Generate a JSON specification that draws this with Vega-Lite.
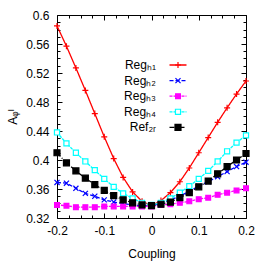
{
  "$schema": "https://vega.github.io/schema/vega-lite/v6.json",
  "width": 189,
  "height": 203,
  "autosize": "none",
  "padding": {"left": 57, "top": 15, "right": 20, "bottom": 48},
  "background": "white",
  "config": {
    "view": {"stroke": "black", "strokeWidth": 1},
    "font": "Liberation Sans",
    "axis": {"labelFont": "Liberation Sans", "titleFont": "Liberation Sans", "labelColor": "black", "titleColor": "black", "tickColor": "black", "labelFontSize": 12, "titleFontSize": 12, "titleFontWeight": "normal", "grid": false, "domain": false},
    "legend": {"labelFont": "Liberation Sans", "labelFontSize": 12, "labelColor": "black"}
  },
  "data": {"values": [
    {"x": -0.2, "v": 0.585, "s": "Regₕ₁"}, {"x": -0.18, "v": 0.557, "s": "Regₕ₁"}, {"x": -0.16, "v": 0.527, "s": "Regₕ₁"}, {"x": -0.14, "v": 0.496, "s": "Regₕ₁"}, {"x": -0.12, "v": 0.464, "s": "Regₕ₁"}, {"x": -0.1, "v": 0.432, "s": "Regₕ₁"}, {"x": -0.08, "v": 0.402, "s": "Regₕ₁"}, {"x": -0.06, "v": 0.376, "s": "Regₕ₁"}, {"x": -0.04, "v": 0.356, "s": "Regₕ₁"}, {"x": -0.02, "v": 0.343, "s": "Regₕ₁"}, {"x": 0, "v": 0.337, "s": "Regₕ₁"}, {"x": 0.02, "v": 0.344, "s": "Regₕ₁"}, {"x": 0.04, "v": 0.355, "s": "Regₕ₁"}, {"x": 0.06, "v": 0.37, "s": "Regₕ₁"}, {"x": 0.08, "v": 0.389, "s": "Regₕ₁"}, {"x": 0.1, "v": 0.41, "s": "Regₕ₁"}, {"x": 0.12, "v": 0.431, "s": "Regₕ₁"}, {"x": 0.14, "v": 0.452, "s": "Regₕ₁"}, {"x": 0.16, "v": 0.472, "s": "Regₕ₁"}, {"x": 0.18, "v": 0.491, "s": "Regₕ₁"}, {"x": 0.2, "v": 0.509, "s": "Regₕ₁"},
    {"x": -0.2, "v": 0.369, "s": "Regₕ₂"}, {"x": -0.18, "v": 0.368, "s": "Regₕ₂"}, {"x": -0.16, "v": 0.361, "s": "Regₕ₂"}, {"x": -0.14, "v": 0.354, "s": "Regₕ₂"}, {"x": -0.12, "v": 0.35, "s": "Regₕ₂"}, {"x": -0.1, "v": 0.345, "s": "Regₕ₂"}, {"x": -0.08, "v": 0.342, "s": "Regₕ₂"}, {"x": -0.06, "v": 0.34, "s": "Regₕ₂"}, {"x": -0.04, "v": 0.338, "s": "Regₕ₂"}, {"x": -0.02, "v": 0.337, "s": "Regₕ₂"}, {"x": 0, "v": 0.337, "s": "Regₕ₂"}, {"x": 0.02, "v": 0.34, "s": "Regₕ₂"}, {"x": 0.04, "v": 0.345, "s": "Regₕ₂"}, {"x": 0.06, "v": 0.35, "s": "Regₕ₂"}, {"x": 0.08, "v": 0.357, "s": "Regₕ₂"}, {"x": 0.1, "v": 0.364, "s": "Regₕ₂"}, {"x": 0.12, "v": 0.37, "s": "Regₕ₂"}, {"x": 0.14, "v": 0.377, "s": "Regₕ₂"}, {"x": 0.16, "v": 0.384, "s": "Regₕ₂"}, {"x": 0.18, "v": 0.391, "s": "Regₕ₂"}, {"x": 0.2, "v": 0.397, "s": "Regₕ₂"},
    {"x": -0.2, "v": 0.338, "s": "Regₕ₃"}, {"x": -0.18, "v": 0.337, "s": "Regₕ₃"}, {"x": -0.16, "v": 0.335, "s": "Regₕ₃"}, {"x": -0.14, "v": 0.335, "s": "Regₕ₃"}, {"x": -0.12, "v": 0.335, "s": "Regₕ₃"}, {"x": -0.1, "v": 0.336, "s": "Regₕ₃"}, {"x": -0.08, "v": 0.336, "s": "Regₕ₃"}, {"x": -0.06, "v": 0.336, "s": "Regₕ₃"}, {"x": -0.04, "v": 0.336, "s": "Regₕ₃"}, {"x": -0.02, "v": 0.336, "s": "Regₕ₃"}, {"x": 0, "v": 0.336, "s": "Regₕ₃"}, {"x": 0.02, "v": 0.338, "s": "Regₕ₃"}, {"x": 0.04, "v": 0.339, "s": "Regₕ₃"}, {"x": 0.06, "v": 0.341, "s": "Regₕ₃"}, {"x": 0.08, "v": 0.343, "s": "Regₕ₃"}, {"x": 0.1, "v": 0.346, "s": "Regₕ₃"}, {"x": 0.12, "v": 0.348, "s": "Regₕ₃"}, {"x": 0.14, "v": 0.352, "s": "Regₕ₃"}, {"x": 0.16, "v": 0.355, "s": "Regₕ₃"}, {"x": 0.18, "v": 0.358, "s": "Regₕ₃"}, {"x": 0.2, "v": 0.361, "s": "Regₕ₃"},
    {"x": -0.2, "v": 0.438, "s": "Regₕ₄"}, {"x": -0.18, "v": 0.423, "s": "Regₕ₄"}, {"x": -0.16, "v": 0.41, "s": "Regₕ₄"}, {"x": -0.14, "v": 0.398, "s": "Regₕ₄"}, {"x": -0.12, "v": 0.386, "s": "Regₕ₄"}, {"x": -0.1, "v": 0.374, "s": "Regₕ₄"}, {"x": -0.08, "v": 0.363, "s": "Regₕ₄"}, {"x": -0.06, "v": 0.354, "s": "Regₕ₄"}, {"x": -0.04, "v": 0.347, "s": "Regₕ₄"}, {"x": -0.02, "v": 0.341, "s": "Regₕ₄"}, {"x": 0, "v": 0.338, "s": "Regₕ₄"}, {"x": 0.02, "v": 0.341, "s": "Regₕ₄"}, {"x": 0.04, "v": 0.347, "s": "Regₕ₄"}, {"x": 0.06, "v": 0.355, "s": "Regₕ₄"}, {"x": 0.08, "v": 0.364, "s": "Regₕ₄"}, {"x": 0.1, "v": 0.374, "s": "Regₕ₄"}, {"x": 0.12, "v": 0.385, "s": "Regₕ₄"}, {"x": 0.14, "v": 0.398, "s": "Regₕ₄"}, {"x": 0.16, "v": 0.412, "s": "Regₕ₄"}, {"x": 0.18, "v": 0.424, "s": "Regₕ₄"}, {"x": 0.2, "v": 0.434, "s": "Regₕ₄"},
    {"x": -0.2, "v": 0.41, "s": "Ref₂ᵣ"}, {"x": -0.18, "v": 0.396, "s": "Ref₂ᵣ"}, {"x": -0.16, "v": 0.385, "s": "Ref₂ᵣ"}, {"x": -0.14, "v": 0.375, "s": "Ref₂ᵣ"}, {"x": -0.12, "v": 0.366, "s": "Ref₂ᵣ"}, {"x": -0.1, "v": 0.358, "s": "Ref₂ᵣ"}, {"x": -0.08, "v": 0.351, "s": "Ref₂ᵣ"}, {"x": -0.06, "v": 0.345, "s": "Ref₂ᵣ"}, {"x": -0.04, "v": 0.341, "s": "Ref₂ᵣ"}, {"x": -0.02, "v": 0.338, "s": "Ref₂ᵣ"}, {"x": 0, "v": 0.337, "s": "Ref₂ᵣ"}, {"x": 0.02, "v": 0.339, "s": "Ref₂ᵣ"}, {"x": 0.04, "v": 0.342, "s": "Ref₂ᵣ"}, {"x": 0.06, "v": 0.348, "s": "Ref₂ᵣ"}, {"x": 0.08, "v": 0.355, "s": "Ref₂ᵣ"}, {"x": 0.1, "v": 0.363, "s": "Ref₂ᵣ"}, {"x": 0.12, "v": 0.371, "s": "Ref₂ᵣ"}, {"x": 0.14, "v": 0.381, "s": "Ref₂ᵣ"}, {"x": 0.16, "v": 0.391, "s": "Ref₂ᵣ"}, {"x": 0.18, "v": 0.4, "s": "Ref₂ᵣ"}, {"x": 0.2, "v": 0.409, "s": "Ref₂ᵣ"}
  ]},
  "resolve": {"axis": {"x": "independent", "y": "independent"}, "legend": {"color": "independent", "shape": "independent", "fill": "independent", "strokeDash": "independent"}},
  "layer": [
    {
      "mark": {"type": "line", "strokeWidth": 1.3, "clip": false},
      "encoding": {
        "x": {"field": "x", "type": "quantitative", "scale": {"domain": [-0.2, 0.2], "nice": false, "zero": false},
          "axis": {"orient": "bottom", "values": [-0.2, -0.1, 0, 0.1, 0.2], "ticks": false, "labelPadding": 7, "labelExpr": "datum.value == 0 ? '0' : (datum.value < 0 ? '-' + format(-datum.value, '.1f') : format(datum.value, '.1f'))", "title": "Coupling", "titlePadding": 12, "labelFlush": false}},
        "y": {"field": "v", "type": "quantitative", "scale": {"domain": [0.32, 0.6], "nice": false, "zero": false},
          "axis": {"orient": "left", "values": [0.32, 0.36, 0.4, 0.44, 0.48, 0.52, 0.56, 0.6], "ticks": false, "labelPadding": 8, "format": "~g", "title": "Aᵩᴵ", "titlePadding": 6, "labelFlush": false}},
        "color": {"field": "s", "type": "nominal", "sort": null,
          "scale": {"domain": ["Regₕ₁", "Regₕ₂", "Regₕ₃", "Regₕ₄", "Ref₂ᵣ"], "range": ["#ff0000", "#0000ff", "#ff00ff", "#00ffff", "#000000"]},
          "legend": {"title": null, "orient": "none", "legendX": 115, "legendY": 44, "padding": 0, "symbolType": "M-2.833,0H2.833", "symbolSize": 36, "symbolStrokeWidth": 1.3, "labelAlign": "right", "labelOffset": -28, "rowPadding": 3.6}},
        "strokeDash": {"field": "s", "type": "nominal", "sort": null,
          "scale": {"domain": ["Regₕ₁", "Regₕ₂", "Regₕ₃", "Regₕ₄", "Ref₂ᵣ"], "range": [[1, 0], [4, 2], [3, 1], [3, 1], [5, 2, 1, 2]]},
          "legend": {"title": null, "orient": "none", "legendX": 115, "legendY": 44, "padding": 0, "symbolType": "M-2.833,0H2.833", "symbolSize": 36, "symbolStrokeWidth": 1.3, "labelAlign": "right", "labelOffset": -28, "rowPadding": 3.6}}
      }
    },
    {
      "mark": {"type": "point", "size": 36, "strokeWidth": 1.2, "opacity": 1, "clip": false},
      "encoding": {
        "x": {"field": "x", "type": "quantitative", "axis": {"orient": "bottom", "values": [-0.2, -0.1, 0, 0.1, 0.2], "labels": false, "tickSize": -5, "title": null}},
        "y": {"field": "v", "type": "quantitative", "axis": {"orient": "left", "values": [0.32, 0.36, 0.4, 0.44, 0.48, 0.52, 0.56, 0.6], "labels": false, "tickSize": -5, "title": null}},
        "color": {"field": "s", "type": "nominal", "sort": null,
          "legend": {"title": null, "orient": "none", "legendX": 115, "legendY": 44, "padding": 0, "symbolSize": 36, "symbolStrokeWidth": 1.2, "labelOpacity": 0, "rowPadding": 3.6}},
        "fill": {"field": "s", "type": "nominal", "sort": null, "scale": {"domain": ["Regₕ₁", "Regₕ₂", "Regₕ₃", "Regₕ₄", "Ref₂ᵣ"], "range": ["#ff0000", "#0000ff", "#ff00ff", "#ffffff", "#000000"]},
          "legend": {"title": null, "orient": "none", "legendX": 115, "legendY": 44, "padding": 0, "symbolSize": 36, "symbolStrokeWidth": 1.2, "labelOpacity": 0, "rowPadding": 3.6}},
        "shape": {"field": "s", "type": "nominal", "sort": null, "scale": {"domain": ["Regₕ₁", "Regₕ₂", "Regₕ₃", "Regₕ₄", "Ref₂ᵣ"], "range": ["M-1,0H1M0,-1V1", "M-0.85,-0.85L0.85,0.85M-0.85,0.85L0.85,-0.85", "M-0.8,-0.8H0.8V0.8H-0.8Z", "M-0.85,-0.85H0.85V0.85H-0.85Z", "M-1,-1H1V1H-1Z"]},
          "legend": {"title": null, "orient": "none", "legendX": 115, "legendY": 44, "padding": 0, "symbolSize": 36, "symbolStrokeWidth": 1.2, "labelOpacity": 0, "rowPadding": 3.6}}
      }
    },
    {
      "mark": {"type": "point", "opacity": 0},
      "encoding": {
        "x": {"field": "x", "type": "quantitative", "axis": {"orient": "bottom", "values": [-0.175, -0.15, -0.125, -0.075, -0.05, -0.025, 0.025, 0.05, 0.075, 0.125, 0.15, 0.175], "labels": false, "tickSize": -3, "title": null}},
        "y": {"field": "v", "type": "quantitative", "axis": {"orient": "left", "values": [0.33, 0.34, 0.35, 0.37, 0.38, 0.39, 0.41, 0.42, 0.43, 0.45, 0.46, 0.47, 0.49, 0.5, 0.51, 0.53, 0.54, 0.55, 0.57, 0.58, 0.59], "labels": false, "tickSize": -3, "title": null}}
      }
    },
    {
      "mark": {"type": "point", "opacity": 0},
      "encoding": {
        "x": {"field": "x", "type": "quantitative", "axis": {"orient": "top", "values": [-0.2, -0.1, 0, 0.1, 0.2], "labels": false, "tickSize": -5, "title": null}},
        "y": {"field": "v", "type": "quantitative", "axis": {"orient": "right", "values": [0.32, 0.36, 0.4, 0.44, 0.48, 0.52, 0.56, 0.6], "labels": false, "tickSize": -5, "title": null}}
      }
    },
    {
      "mark": {"type": "point", "opacity": 0},
      "encoding": {
        "x": {"field": "x", "type": "quantitative", "axis": {"orient": "top", "values": [-0.175, -0.15, -0.125, -0.075, -0.05, -0.025, 0.025, 0.05, 0.075, 0.125, 0.15, 0.175], "labels": false, "tickSize": -3, "title": null}},
        "y": {"field": "v", "type": "quantitative", "axis": {"orient": "right", "values": [0.33, 0.34, 0.35, 0.37, 0.38, 0.39, 0.41, 0.42, 0.43, 0.45, 0.46, 0.47, 0.49, 0.5, 0.51, 0.53, 0.54, 0.55, 0.57, 0.58, 0.59], "labels": false, "tickSize": -3, "title": null}}
      }
    }
  ]
}
